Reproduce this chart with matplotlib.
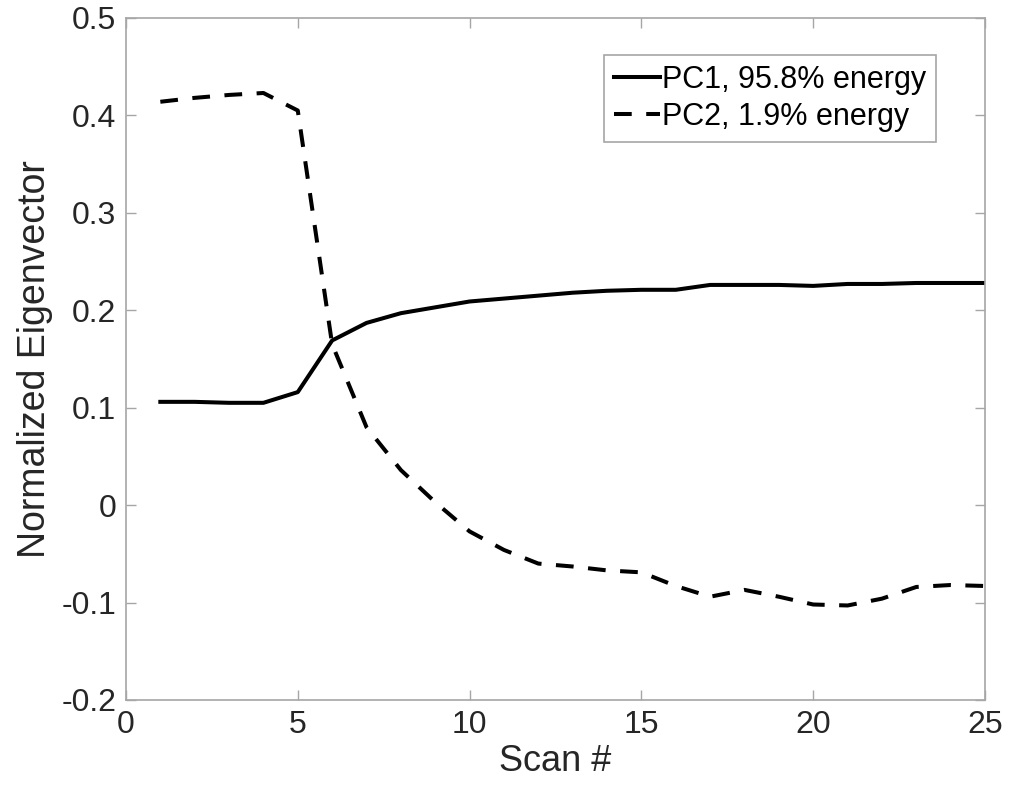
import matplotlib
matplotlib.use("Agg")
import matplotlib.pyplot as plt
import numpy as np

plt.rcParams['font.family'] = ['Liberation Sans', 'DejaVu Sans']

scan = np.arange(1, 26)
# PC1 (solid)
pc1 = [0.106, 0.106, 0.105, 0.105, 0.116, 0.169, 0.187, 0.197, 0.203, 0.209,
       0.212, 0.215, 0.218, 0.220, 0.221, 0.221, 0.226, 0.226, 0.226, 0.225,
       0.227, 0.227, 0.228, 0.228, 0.228]
# PC2 (dashed)
pc2 = [0.414, 0.418, 0.421, 0.423, 0.405, 0.165, 0.080, 0.036, 0.003, -0.027,
       -0.046, -0.060, -0.063, -0.067, -0.069, -0.083, -0.094, -0.087, -0.094, -0.102,
       -0.103, -0.096, -0.084, -0.082, -0.083]
labels = ['PC1, 95.8% energy', 'PC2, 1.9% energy']

fig = plt.figure(figsize=(10.11, 8.02), dpi=100)
ax = fig.add_axes([0.1246, 0.1272, 0.8497, 0.8504])

ax.plot(scan, pc1, color='black', lw=2.9, label=labels[0])
ax.plot(scan, pc2, color='black', lw=2.9, dashes=(4.4, 3.6), label=labels[1])

ax.set_xlim(0, 25)
ax.set_ylim(-0.2, 0.5)
ax.set_xticks(np.arange(0, 26, 5))
ax.set_yticks(np.arange(-0.2, 0.51, 0.1))
ax.set_yticklabels(['-0.2', '-0.1', '0', '0.1', '0.2', '0.3', '0.4', '0.5'])

grey = '#a6a6a6'
for s in ax.spines.values():
    s.set_color(grey)
    s.set_linewidth(1.2)
ax.tick_params(direction='in', length=7, width=1, color=grey, top=True, right=True,
               labelsize=23, labelcolor='#262626', pad=7)

ax.set_xlabel('Scan #', fontsize=26, color='#262626', labelpad=3)
ax.set_ylabel('Normalized Eigenvector', fontsize=27, color='#262626', labelpad=6)

leg = ax.legend(loc='upper right', bbox_to_anchor=(0.943, 0.946), borderaxespad=0,
                fontsize=22, frameon=True, fancybox=False, framealpha=1,
                handlelength=1.5, handletextpad=0.05, borderpad=0.33, labelspacing=0.22)
leg.get_frame().set_edgecolor(grey)
leg.get_frame().set_linewidth(1.2)

fig.savefig('out.png', dpi=100)
